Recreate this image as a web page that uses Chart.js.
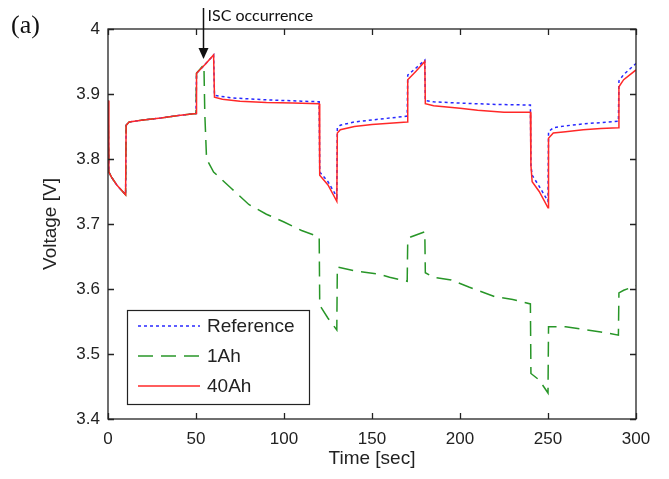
<!DOCTYPE html>
<html>
<head>
<meta charset="utf-8">
<script src="https://cdn.jsdelivr.net/npm/chart.js@4"></script>
<style>
  html, body { margin: 0; padding: 0; background: #fff; }
  #wrap { width: 669px; height: 479px; position: relative; }
</style>
</head>
<body>
<div id="wrap"><canvas id="chart" width="669" height="479"></canvas></div>
<script>
// Time [sec] / Voltage [V]
const ah40Time = [0, 0.5, 2, 5, 10, 10.3, 12, 20, 30, 40, 50, 50.3, 55, 60, 60.5, 65, 75, 90, 105, 120,
  120.3, 125, 130, 130.3, 132, 140, 150, 160, 170, 170.3, 175, 180, 180.3, 185, 200, 210, 225, 240,
  240.3, 241, 245, 250, 250.3, 253, 260, 270, 280, 290, 290.3, 293, 300];
const ah40Volt = [3.89, 3.78, 3.772, 3.76, 3.745, 3.852, 3.857, 3.86, 3.863, 3.867, 3.87, 3.932, 3.945, 3.96, 3.895, 3.892, 3.889, 3.887, 3.886, 3.885,
  3.775, 3.76, 3.735, 3.84, 3.845, 3.85, 3.853, 3.855, 3.857, 3.922, 3.935, 3.95, 3.885, 3.882, 3.878, 3.875, 3.872, 3.872,
  3.79, 3.765, 3.75, 3.725, 3.832, 3.84, 3.842, 3.845, 3.847, 3.848, 3.911, 3.922, 3.937];

const refTime = [0, 0.5, 2, 5, 10, 10.3, 12, 20, 30, 40, 50, 50.3, 55, 60, 60.5, 70, 90, 110, 120,
  120.3, 125, 130, 130.3, 132, 140, 150, 160, 170, 170.3, 175, 180, 180.3, 185, 200, 220, 240,
  240.3, 241, 245, 250, 250.3, 253, 260, 270, 280, 290, 290.3, 293, 300];
const refVolt = [3.89, 3.78, 3.772, 3.76, 3.745, 3.852, 3.857, 3.86, 3.863, 3.867, 3.87, 3.932, 3.945, 3.96, 3.898, 3.894, 3.891, 3.889, 3.888,
  3.78, 3.765, 3.742, 3.848, 3.852, 3.857, 3.86, 3.863, 3.866, 3.929, 3.94, 3.952, 3.89, 3.888, 3.886, 3.884, 3.883,
  3.79, 3.775, 3.758, 3.735, 3.842, 3.848, 3.851, 3.854, 3.856, 3.858, 3.92, 3.93, 3.947];

const ah1Time = [0, 0.5, 2, 5, 10, 10.3, 12, 20, 30, 40, 50, 50.3, 54.5, 55, 56, 60, 70, 80, 90, 100, 110, 120,
  120.3, 125, 130, 130.3, 140, 154, 160, 170, 170.3, 172, 180, 180.3, 185, 195, 205, 210, 220, 230, 240,
  240.3, 245, 250, 250.3, 260, 270, 280, 290, 290.3, 293, 300];
const ah1Volt = [3.89, 3.78, 3.772, 3.76, 3.745, 3.852, 3.857, 3.86, 3.863, 3.867, 3.87, 3.932, 3.945, 3.87, 3.8, 3.78, 3.755, 3.73, 3.715, 3.703, 3.69, 3.68,
  3.575, 3.555, 3.537, 3.634, 3.628, 3.623, 3.618, 3.612, 3.675, 3.68, 3.688, 3.625, 3.618, 3.614, 3.603, 3.598, 3.588, 3.584, 3.577,
  3.47, 3.46, 3.44, 3.542, 3.542, 3.538, 3.534, 3.529, 3.594, 3.598, 3.605];

const seriesNames = ['Reference', '1Ah', '40Ah'];
const xTicks = [0, 50, 100, 150, 200, 250, 300];
const yTicks = [3.4, 3.5, 3.6, 3.7, 3.8, 3.9, 4.0];
const iscTime = 54;

const toPoints = (ts, vs) => ts.map((t, i) => ({ x: t, y: vs[i] }));

const SANS = "'Liberation Sans', Arial, sans-serif";

// box, inward ticks, legend and annotation
const frame = {
  id: 'frame',
  afterDraw(chart) {
    const { ctx, chartArea: a, scales } = chart;
    const xs = scales.x, ys = scales.y;
    ctx.save();
    ctx.strokeStyle = '#222';
    ctx.lineWidth = 1.3;
    ctx.strokeRect(a.left, a.top, a.right - a.left, a.bottom - a.top);
    ctx.beginPath();
    xTicks.forEach(v => {
      const px = Math.round(xs.getPixelForValue(v)) + 0.5;
      ctx.moveTo(px, a.bottom); ctx.lineTo(px, a.bottom - 6);
      ctx.moveTo(px, a.top); ctx.lineTo(px, a.top + 6);
    });
    yTicks.forEach(v => {
      const py = Math.round(ys.getPixelForValue(v)) + 0.5;
      ctx.moveTo(a.left, py); ctx.lineTo(a.left + 6, py);
      ctx.moveTo(a.right, py); ctx.lineTo(a.right - 6, py);
    });
    ctx.stroke();

    // legend
    const bx = a.left + 19, by = 310, bw = 182, bh = 94;
    ctx.fillStyle = '#fff';
    ctx.fillRect(bx, by, bw, bh);
    ctx.strokeStyle = '#222';
    ctx.lineWidth = 1.2;
    ctx.strokeRect(bx + 0.5, by + 0.5, bw, bh);
    const ds = chart.data.datasets;
    const rows = [326, 356, 386];
    ds.forEach((d, i) => {
      ctx.beginPath();
      ctx.strokeStyle = d.borderColor;
      ctx.lineWidth = d.borderWidth;
      ctx.setLineDash(d.borderDash || []);
      ctx.moveTo(bx + 11, rows[i]);
      ctx.lineTo(bx + 73, rows[i]);
      ctx.stroke();
      ctx.setLineDash([]);
      ctx.fillStyle = '#222';
      ctx.font = '19px ' + SANS;
      ctx.textBaseline = 'middle';
      ctx.textAlign = 'left';
      ctx.fillText(d.label, bx + 80, rows[i] + 1);
    });

    // (a) label
    ctx.fillStyle = '#111';
    ctx.font = "26px 'Liberation Serif', 'Times New Roman', serif";
    ctx.textBaseline = 'alphabetic';
    ctx.fillText('(a)', 11, 33);

    // ISC arrow
    const ax = Math.round(xs.getPixelForValue(iscTime)) + 0.5;
    ctx.strokeStyle = '#111';
    ctx.lineWidth = 1.5;
    ctx.beginPath();
    ctx.moveTo(ax, 8); ctx.lineTo(ax, 50);
    ctx.stroke();
    ctx.fillStyle = '#111';
    ctx.beginPath();
    ctx.moveTo(ax - 5, 48); ctx.lineTo(ax + 5, 48); ctx.lineTo(ax, 59);
    ctx.closePath();
    ctx.fill();
    ctx.font = "16px Lato, 'Open Sans', sans-serif";
    ctx.fillText('ISC occurrence', ax + 4, 21);
    ctx.restore();
  }
};

new Chart(document.getElementById('chart'), {
  type: 'line',
  data: {
    datasets: [
      {
        label: seriesNames[0],
        data: toPoints(refTime, refVolt),
        borderColor: 'rgb(40,40,255)',
        borderWidth: 1.5,
        borderDash: [3, 3],
        order: 2
      },
      {
        label: seriesNames[1],
        data: toPoints(ah1Time, ah1Volt),
        borderColor: 'rgb(40,150,40)',
        borderWidth: 1.5,
        borderDash: [15, 8],
        order: 1
      },
      {
        label: seriesNames[2],
        data: toPoints(ah40Time, ah40Volt),
        borderColor: 'rgb(255,40,40)',
        borderWidth: 1.5,
        order: 0
      }
    ]
  },
  options: {
    responsive: false,
    animation: false,
    layout: { padding: { top: 29, right: 33, left: 0, bottom: 0 } },
    elements: { point: { radius: 0 }, line: { tension: 0 } },
    scales: {
      x: {
        type: 'linear',
        min: 0, max: 300,
        afterFit: s => { s.height = 60; },
        afterBuildTicks: s => { s.ticks = xTicks.map(v => ({ value: v })); },
        grid: { display: false, drawTicks: false },
        border: { display: false },
        ticks: { color: '#222', padding: 10, font: { family: SANS, size: 17 } },
        title: { display: true, text: 'Time [sec]', color: '#222', padding: { top: 0, bottom: 9 }, font: { family: SANS, size: 19 } }
      },
      y: {
        min: 3.4, max: 4.0,
        afterFit: s => { s.width = 108; },
        afterBuildTicks: s => { s.ticks = yTicks.map(v => ({ value: v })); },
        grid: { display: false, drawTicks: false },
        border: { display: false },
        ticks: { color: '#222', padding: 8, font: { family: SANS, size: 17 }, callback: v => String(+v.toFixed(1)) },
        title: { display: true, text: 'Voltage [V]', color: '#222', padding: { top: 39, bottom: 0 }, font: { family: SANS, size: 19 } }
      }
    },
    plugins: {
      legend: { display: false },
      tooltip: { enabled: false }
    }
  },
  plugins: [frame]
});
</script>
</body>
</html>
